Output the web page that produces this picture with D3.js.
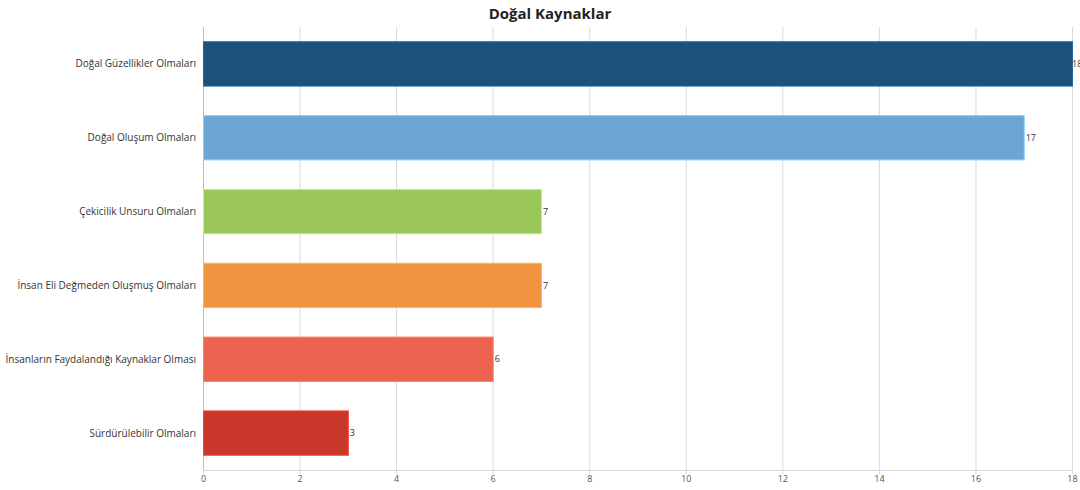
<!DOCTYPE html>
<html>
<head>
<meta charset="utf-8">
<script src="https://cdn.jsdelivr.net/npm/d3@7"></script>
<style>
  body { margin: 0; background: #fff; }
  svg { display: block; font-family: "Open Sans", "Noto Sans", sans-serif; }
</style>
</head>
<body>
<div id="chart"></div>
<script>
// Chart data
const categories = [
  'Doğal Güzellikler Olmaları',
  'Doğal Oluşum Olmaları',
  'Çekicilik Unsuru Olmaları',
  'İnsan Eli Değmeden Oluşmuş Olmaları',
  'İnsanların Faydalandığı Kaynaklar Olması',
  'Sürdürülebilir Olmaları'
];
const values = [18, 17, 7, 7, 6, 3];
const barColors = ['#1d517d', '#6ca7d4', '#9bc65a', '#f1943f', '#ec6350', '#c9372a'];
const tickValues = [0, 2, 4, 6, 8, 10, 12, 14, 16, 18];

const width = 1080;
const height = 490;
const margin = { top: 27, right: 8, bottom: 20, left: 203 };

const svg = d3.select('#chart').append('svg')
  .attr('width', width)
  .attr('height', height);

const x = d3.scaleLinear()
  .domain([0, 18])
  .range([margin.left, width - margin.right]);

const y = d3.scaleBand()
  .domain(categories)
  .range([margin.top, height - margin.bottom])
  .paddingInner(0.4)
  .paddingOuter(0.2);

// vertical gridlines
svg.append('g')
  .selectAll('line')
  .data(tickValues)
  .enter().append('line')
  .attr('x1', d => x(d) + 0.5)
  .attr('x2', d => x(d) + 0.5)
  .attr('y1', margin.top)
  .attr('y2', height - margin.bottom + 4)
  .attr('stroke', '#d9d9d9')
  .attr('stroke-width', 1);

// bottom axis
const xAxis = d3.axisBottom(x)
  .tickValues(tickValues)
  .tickSize(0)
  .tickPadding(6);

const gx = svg.append('g')
  .attr('transform', `translate(0, ${height - margin.bottom})`)
  .call(xAxis);
gx.select('.domain').attr('stroke', '#d6dcd6');
gx.selectAll('text')
  .attr('font-size', 9)
  .attr('fill', '#555')
  .attr('font-family', '"Open Sans", sans-serif');

// left axis line
svg.append('line')
  .attr('x1', margin.left + 0.5)
  .attr('x2', margin.left + 0.5)
  .attr('y1', margin.top)
  .attr('y2', height - margin.bottom)
  .attr('stroke', '#bdbdbd');

// bars
svg.append('g')
  .selectAll('rect')
  .data(values)
  .enter().append('rect')
  .attr('x', x(0) + 0.5)
  .attr('y', (d, i) => y(categories[i]))
  .attr('width', d => x(d) - x(0))
  .attr('height', y.bandwidth())
  .attr('fill', (d, i) => barColors[i])
  .attr('stroke', (d, i) => d3.color(barColors[i]).brighter(0.6))
  .attr('stroke-width', 1);

// value labels (the 18 label sits at the right edge, as in the original)
svg.append('g')
  .selectAll('text')
  .data(values)
  .enter().append('text')
  .attr('x', d => Math.min(x(d) + 2, width - 8))
  .attr('y', (d, i) => y(categories[i]) + y.bandwidth() / 2)
  .attr('dy', '.35em')
  .attr('font-size', 9)
  .attr('fill', '#333')
  .text(d => d);

// category labels
svg.append('g')
  .selectAll('text')
  .data(categories)
  .enter().append('text')
  .attr('x', margin.left - 7)
  .attr('y', d => y(d) + y.bandwidth() / 2)
  .attr('dy', '.35em')
  .attr('text-anchor', 'end')
  .attr('font-size', 10)
  .attr('fill', '#333')
  .text(d => d);

// title
svg.append('text')
  .attr('x', 550)
  .attr('y', 19)
  .attr('text-anchor', 'middle')
  .attr('font-size', 15)
  .attr('font-weight', 'bold')
  .attr('fill', '#222')
  .text('Doğal Kaynaklar');
</script>
</body>
</html>
